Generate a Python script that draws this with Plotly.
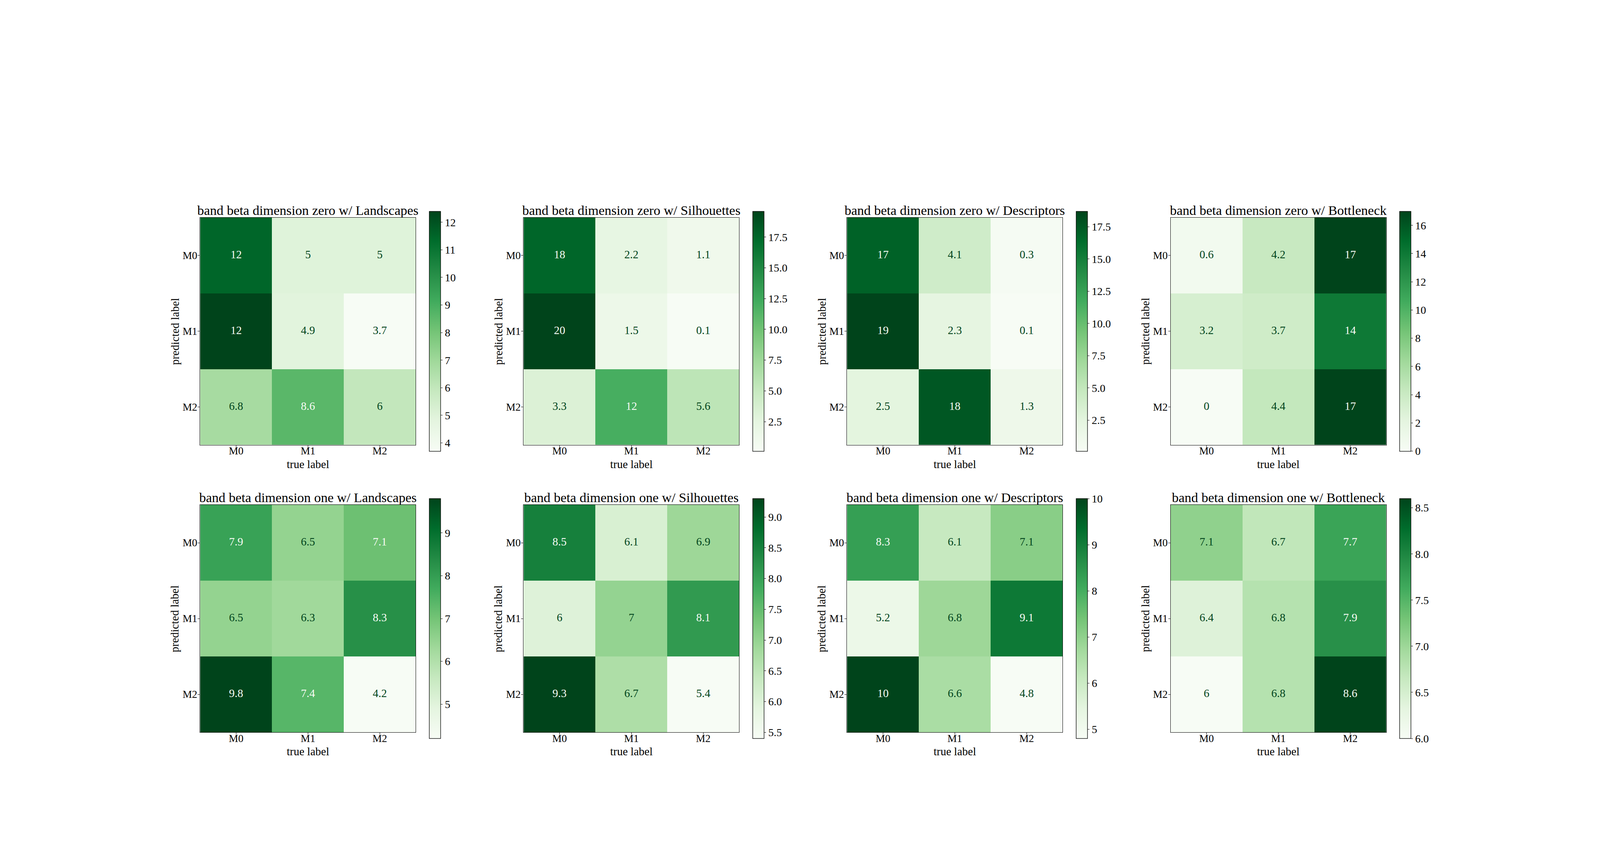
import plotly.graph_objects as go

W, H = 4320, 2160
classes = ["M0", "M1", "M2"]
bands = ["zero", "one"]
methods = ["Landscapes", "Silhouettes", "Descriptors", "Bottleneck"]
greens = ["#f7fcf5", "#e5f5e0", "#c7e9c0", "#a1d99b", "#74c476", "#41ab5d", "#238b45", "#006d2c", "#00441b"]

zero_landscapes = [[11.5, 5.0, 5.0], [12.4, 4.9, 3.7], [6.8, 8.6, 6.0]]
zero_silhouettes = [[17.6, 2.2, 1.1], [19.6, 1.5, 0.1], [3.3, 12.0, 5.6]]
zero_descriptors = [[17.0, 4.1, 0.3], [18.7, 2.3, 0.1], [2.5, 17.6, 1.3]]
zero_bottleneck = [[0.6, 4.2, 17.0], [3.2, 3.7, 14.0], [0.0, 4.4, 17.0]]
one_landscapes = [[7.9, 6.5, 7.1], [6.5, 6.3, 8.3], [9.8, 7.4, 4.2]]
one_silhouettes = [[8.5, 6.1, 6.9], [6.0, 7.0, 8.1], [9.3, 6.7, 5.4]]
one_descriptors = [[8.3, 6.1, 7.1], [5.2, 6.8, 9.1], [10.0, 6.6, 4.8]]
one_bottleneck = [[7.1, 6.7, 7.7], [6.4, 6.8, 7.9], [6.0, 6.8, 8.6]]

matrices = [zero_landscapes, zero_silhouettes, zero_descriptors, zero_bottleneck,
            one_landscapes, one_silhouettes, one_descriptors, one_bottleneck]
cbar_dticks = [1, 2.5, 2.5, 2, 1, 0.5, 1, 0.5]
cbar_formats = ["d", ".1f", ".1f", "d", "d", ".1f", "d", ".1f"]

FONT = "Liberation Serif"
INK = "#000000"
col_left = [540.5, 1413.8, 2287.0, 3160.7]
row_top = [556.6, 1292.0]
pw, ph = 582.0, 582.0

fig = go.Figure()
layout = dict(margin=dict(l=0, r=0, t=0, b=0, pad=0), paper_bgcolor="white",
              plot_bgcolor="white", showlegend=False, annotations=[])

for i, z in enumerate(matrices):
    n = i + 1
    r, c = i // 4, i % 4
    sx = "" if n == 1 else str(n)
    x0, y0 = col_left[c], row_top[r]
    flat = [v for row in z for v in row]
    lo, hi = min(flat), max(flat)
    mid = (lo + hi) / 2
    fig.add_trace(go.Heatmap(z=z, x=classes, y=classes, coloraxis=f"coloraxis{sx}", xaxis=f"x{sx}", yaxis=f"y{sx}",
                             hoverinfo="skip"))
    xs, ys, txt, cols = [], [], [], []
    for ri, row in enumerate(z):
        for ci, v in enumerate(row):
            xs.append(classes[ci]); ys.append(classes[ri])
            txt.append(format(v, ".2g"))
            cols.append(greens[0] if v > mid else greens[-1])
    fig.add_trace(go.Scatter(x=xs, y=ys, mode="text", text=txt, xaxis=f"x{sx}", yaxis=f"y{sx}",
                             textposition="middle center", hoverinfo="skip",
                             textfont=dict(family=FONT, size=29, color=cols)))
    layout[f"xaxis{sx}"] = dict(domain=[x0 / W, (x0 + pw) / W], anchor=f"y{sx}", type="category",
                                range=[-0.5, 2.5], side="bottom", showgrid=False, zeroline=False,
                                showline=True, mirror=True, linecolor=INK, linewidth=1.3,
                                ticks="outside", ticklen=5, tickwidth=1.3, tickcolor=INK,
                                ticklabelstandoff=-14,
                                tickfont=dict(family=FONT, size=27, color=INK), automargin=False)
    layout[f"yaxis{sx}"] = dict(domain=[1 - (y0 + ph) / H, 1 - y0 / H], anchor=f"x{sx}", type="category",
                                range=[2.5, -0.5], showgrid=False, zeroline=False,
                                showline=True, mirror=True, linecolor=INK, linewidth=1.3,
                                ticks="outside", ticklen=5, tickwidth=1.3, tickcolor=INK,
                                ticklabelstandoff=-4,
                                tickfont=dict(family=FONT, size=27, color=INK), automargin=False)
    layout[f"coloraxis{sx}"] = dict(
        colorscale=[[k / 8, g] for k, g in enumerate(greens)], cmin=lo, cmax=hi,
        colorbar=dict(x=(x0 + 618.5) / W, xanchor="left", xpad=0, ypad=0, y=1 - (y0 + ph / 2) / H, yanchor="middle",
                      len=(ph + 32) / H, lenmode="fraction", thickness=29, thicknessmode="pixels",
                      outlinewidth=1.3, outlinecolor=INK, ticks="outside", ticklen=5, tickwidth=1.3, tickcolor=INK,
                      tick0=0, dtick=cbar_dticks[i], tickformat=cbar_formats[i],
                      tickfont=dict(family=FONT, size=28, color=INK)))
    layout["annotations"].append(dict(
        text=f"band beta dimension {bands[r]} w/ {methods[c]}", showarrow=False,
        xref=f"x{sx} domain", yref=f"y{sx} domain", x=0.5, y=1, xanchor="center", yanchor="bottom", yshift=-2,
        font=dict(family=FONT, size=34.5, color=INK)))
    layout["annotations"].append(dict(
        text="true label", showarrow=False, xref=f"x{sx} domain", yref=f"y{sx} domain", x=0.5, y=0,
        xanchor="center", yanchor="middle", yshift=-49, font=dict(family=FONT, size=29, color=INK)))
    layout["annotations"].append(dict(
        text="predicted label", showarrow=False, textangle=-90, xref=f"x{sx} domain", yref=f"y{sx} domain", x=0, y=0.5,
        xanchor="center", yanchor="middle", xshift=-65, font=dict(family=FONT, size=29, color=INK)))

fig.update_layout(**layout)
post = """
document.documentElement.style.margin='0';document.body.style.margin='0';document.body.style.overflow='hidden';
Plotly.Plots.resize(document.querySelector('.plotly-graph-div'));
"""
fig.write_html("out.html", default_width="100vw", default_height="100vh", post_script=post,
               config={"displayModeBar": False})
